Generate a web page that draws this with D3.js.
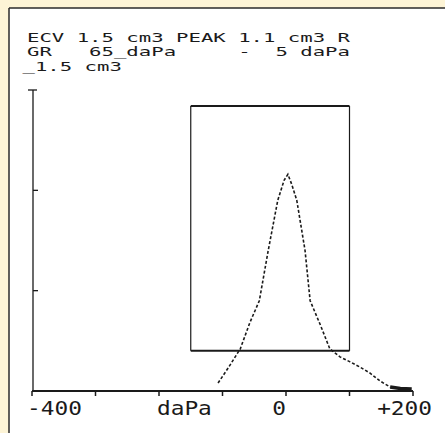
<!DOCTYPE html>
<html lang="en">
<head>
  <meta charset="UTF-8" />
  <title>Tympanogram</title>
  <style>
    body { margin: 0; background: #fdf4d6; }
    .panel { fill: #fff; }
    .frame { stroke: #2a2a2a; stroke-width: 1.5px; }
    .axis-line { stroke: #1a1a1a; stroke-width: 2px; fill: none; }
    .yaxis-line { stroke: #1a1a1a; stroke-width: 1.3px; fill: none; }
    .box-h { stroke: #1a1a1a; stroke-width: 2px; }
    .box-v { stroke: #1a1a1a; stroke-width: 1.2px; }
    .curve { fill: none; stroke: #1a1a1a; stroke-width: 1.6px; stroke-dasharray: 3, 2; }
    .curve-tail { fill: none; stroke: #1a1a1a; stroke-width: 3.5px; }
    .hdr { font-family: "DejaVu Sans Mono", monospace; font-size: 12px; fill: #1a1a1a; white-space: pre; }
    .lbl { font-family: "DejaVu Sans Mono", monospace; font-size: 19px; fill: #1a1a1a; }
  </style>
</head>
<body>
  <script src="https://cdn.jsdelivr.net/npm/d3@7"></script>
  <script>
    var w = 445;
    var h = 433;

    // header lines printed by the instrument
    var headerLines = [
      "ECV 1.5 cm3 PEAK 1.1 cm3 R",
      "GR   65_daPa     -  5 daPa",
      "_1.5 cm3"
    ];

    // x axis
    var xTicks = [-400, -300, -200, -100, 0, 100, 200];
    var xLabels = ["-400", "daPa", "0", "+200"];
    var xLabelAt = [-400, -160, 0, 200];

    // y axis (cm3)
    var yTicks = [0.5, 1.0];
    var yTop = 1.5;

    // normal region box
    var boxPressure = [-150, 100];
    var boxVolume = [0.2, 1.42];

    // measured curve
    var pressure = [-107, -91, -72, -57, -42, -28, -13, -3, 3, 9, 17, 30, 38, 54, 69, 85, 101, 116, 132, 148, 164];
    var volume = [0.04, 0.115, 0.21, 0.34, 0.45, 0.70, 0.95, 1.05, 1.08, 1.03, 0.95, 0.70, 0.45, 0.33, 0.21, 0.17, 0.145, 0.12, 0.09, 0.05, 0.02];
    var tailPressure = [164, 180, 198];
    var tailVolume = [0.02, 0.012, 0.01];

    var svg = d3.select("body").append("svg")
      .attr("width", w)
      .attr("height", h);

    svg.append("rect").attr("class", "panel")
      .attr("x", 9).attr("y", 8).attr("width", w - 9).attr("height", h - 8);
    svg.append("line").attr("class", "frame")
      .attr("x1", 9).attr("x2", w).attr("y1", 8).attr("y2", 8);
    svg.append("line").attr("class", "frame")
      .attr("x1", 9).attr("x2", 9).attr("y1", 8).attr("y2", h);

    var xScale = d3.scaleLinear().domain([-400, 200]).range([32, 413]);
    var yScale = d3.scaleLinear().domain([0, 1.5]).range([391, 90]);

    // header text: narrow 12px mono stretched to the printer's wide cells
    var sx = 1.72;
    var lineX = [27, 27, 22.5];
    var lineY = [42, 56, 70.5];
    headerLines.forEach(function(t, i) {
      svg.append("text")
        .attr("class", "hdr")
        .attr("transform", "translate(" + lineX[i] + "," + lineY[i] + ") scale(" + sx + ",1)")
        .text(t);
    });

    // y axis
    svg.append("line").attr("class", "yaxis-line")
      .attr("x1", xScale(-400) + 1).attr("x2", xScale(-400) + 1)
      .attr("y1", yScale(yTop)).attr("y2", yScale(0));
    svg.append("line").attr("class", "yaxis-line")
      .attr("x1", xScale(-400) - 4).attr("x2", xScale(-400) + 5)
      .attr("y1", yScale(yTop)).attr("y2", yScale(yTop));
    svg.selectAll(".ytick")
      .data(yTicks)
      .enter()
      .append("line")
      .attr("class", "yaxis-line ytick")
      .attr("x1", xScale(-400) + 1).attr("x2", xScale(-400) + 6)
      .attr("y1", function(d) { return yScale(d); })
      .attr("y2", function(d) { return yScale(d); });

    // x axis
    svg.append("line").attr("class", "axis-line")
      .attr("x1", xScale(-400)).attr("x2", xScale(200))
      .attr("y1", yScale(0)).attr("y2", yScale(0));
    svg.selectAll(".xtick")
      .data(xTicks)
      .enter()
      .append("line")
      .attr("class", "axis-line xtick")
      .style("stroke-width", "1.5px")
      .attr("x1", function(d) { return xScale(d); })
      .attr("x2", function(d) { return xScale(d); })
      .attr("y1", yScale(0)).attr("y2", yScale(0) + 5);

    var anchors = ["start", "middle", "middle", "end"];
    var nudge = [-5, 0, -7, 19];
    xLabels.forEach(function(t, i) {
      svg.append("text")
        .attr("class", "lbl")
        .attr("text-anchor", anchors[i])
        .attr("transform", "translate(" + (xScale(xLabelAt[i]) + nudge[i]) + ",415) scale(1.2,1)")
        .text(t);
    });

    // normal box
    svg.append("line").attr("class", "box-h")
      .attr("x1", xScale(boxPressure[0])).attr("x2", xScale(boxPressure[1]))
      .attr("y1", yScale(boxVolume[1])).attr("y2", yScale(boxVolume[1]));
    svg.append("line").attr("class", "box-h")
      .attr("x1", xScale(boxPressure[0])).attr("x2", xScale(boxPressure[1]))
      .attr("y1", yScale(boxVolume[0])).attr("y2", yScale(boxVolume[0]));
    boxPressure.forEach(function(p) {
      svg.append("line").attr("class", "box-v")
        .attr("x1", xScale(p)).attr("x2", xScale(p))
        .attr("y1", yScale(boxVolume[1])).attr("y2", yScale(boxVolume[0]));
    });

    // curve
    var line = d3.line()
      .x(function(d) { return xScale(d[0]); })
      .y(function(d) { return yScale(d[1]); });

    svg.append("path")
      .datum(d3.zip(pressure, volume))
      .attr("class", "curve")
      .attr("d", line);

    svg.append("path")
      .datum(d3.zip(tailPressure, tailVolume))
      .attr("class", "curve-tail")
      .attr("d", line);
  </script>
</body>
</html>
